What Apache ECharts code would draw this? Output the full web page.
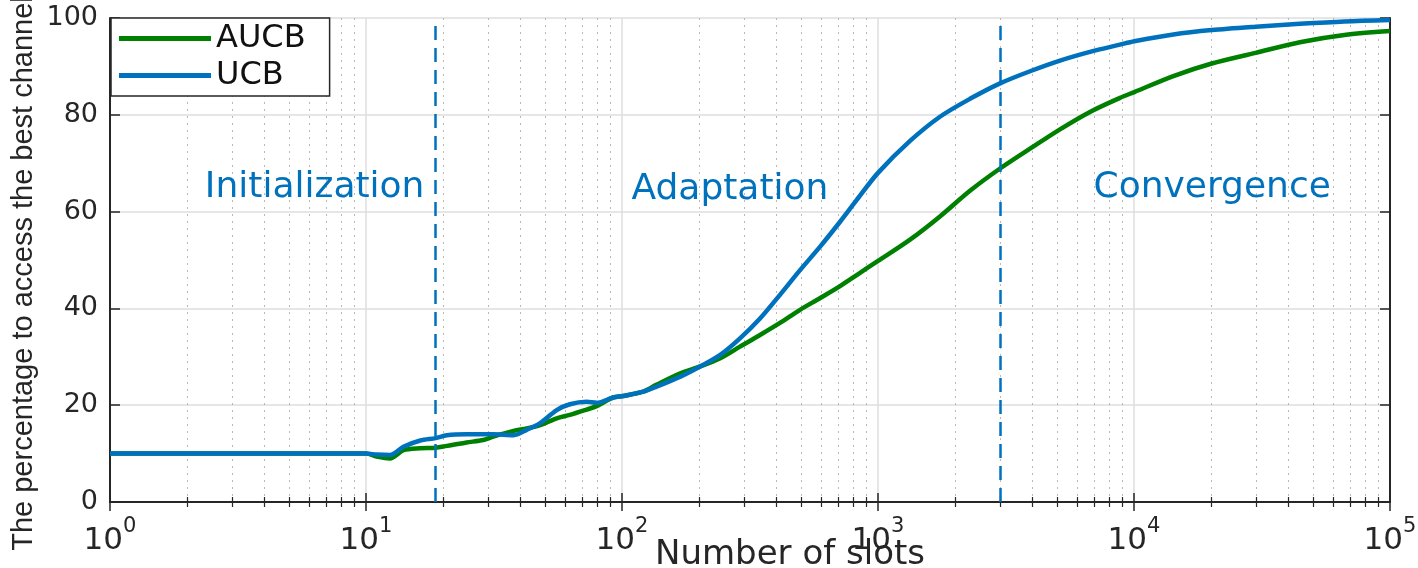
<!DOCTYPE html>
<html>
<head>
<meta charset="utf-8">
<title>AUCB vs UCB</title>
<script src="https://cdn.jsdelivr.net/npm/echarts@6/dist/echarts.min.js"></script>
<style>
  html, body { margin: 0; padding: 0; background: #fff; }
  #chart { width: 1418px; height: 568px; }
</style>
</head>
<body>
<div id="chart"></div>
<script>
// number of slots (x, log scale)
var slots = [1, 5, 10, 11, 12.4, 14, 16.3, 18.7, 20.7, 24.7, 28.7, 31.4, 37.7, 42.4, 47.9,
  55.6, 62.6, 72.8, 79.6, 92.5, 101, 121, 136, 169, 202, 242, 289, 346, 414, 496, 593,
  711, 826, 1000, 1334, 1746, 2287, 2998, 3926, 5140, 6730, 8815, 10030, 14250, 20130,
  29860, 44460, 66350, 100000];
// percentage of accessing the best channel
var aucb = [10, 10, 10, 9.4, 9.0, 10.7, 11.1, 11.2, 11.6, 12.3, 12.8, 13.5, 14.7, 15.2, 15.9,
  17.3, 18.0, 19.1, 19.8, 21.6, 21.9, 22.8, 24.2, 26.6, 28.0, 29.7, 32.1, 34.5, 37.0, 39.7, 42.1,
  44.6, 46.9, 49.8, 54.2, 59.0, 64.3, 68.9, 73.0, 77.0, 80.6, 83.5, 84.7, 88.0, 90.6,
  92.8, 95.0, 96.5, 97.3];
var ucb = [10, 10, 10, 9.8, 9.7, 11.4, 12.7, 13.2, 13.8, 14.0, 14.0, 14.0, 13.8, 14.9, 16.3,
  19.0, 20.2, 20.7, 20.5, 21.6, 21.9, 22.8, 23.8, 25.9, 28.0, 30.4, 33.8, 37.9, 42.8, 47.9, 52.7,
  57.9, 62.4, 68.0, 74.6, 79.6, 83.3, 86.5, 89.0, 91.2, 93.0, 94.5, 95.2, 96.6, 97.5,
  98.2, 98.8, 99.3, 99.6];
// phase boundaries (dashed lines)
var phaseBounds = [18.7, 3000];
// phase labels: name, x (slots), y (%)
var phaseNames = ['Initialization', 'Adaptation', 'Convergence'];
var phaseX = [6.3, 264, 20200];
var phaseY = [65, 64.5, 65];
var yTicks = [0, 20, 40, 60, 80, 100];

function pairs(xs, ys) {
  return xs.map(function (x, i) { return [x, ys[i]]; });
}

var axisColor = '#262626';
var font = 'DejaVu Sans';

var chart = echarts.init(document.getElementById('chart'), null, { renderer: 'canvas' });
chart.setOption({
  animation: false,
  grid: { left: 110, right: 28, top: 18, bottom: 66, containLabel: false, outerBoundsMode: 'none' },
  legend: {
    data: ['AUCB', 'UCB'],
    orient: 'vertical',
    left: 111,
    top: 18,
    itemWidth: 92,
    itemHeight: 5,
    itemGap: 4,
    icon: 'rect',
    padding: [4, 24, 4, 8],
    backgroundColor: '#fff',
    borderColor: axisColor,
    borderWidth: 1.5,
    borderRadius: 0,
    textStyle: { fontFamily: font, fontSize: 32, color: '#111', lineHeight: 33 }
  },
  xAxis: [
    {
      type: 'log',
      logBase: 10,
      min: 1,
      max: 100000,
      name: 'Number of slots',
      nameLocation: 'middle',
      nameGap: 36,
      nameMoveOverlap: false,
      nameTextStyle: { fontFamily: font, fontSize: 34, color: axisColor, padding: [0, 0, 0, 80] },
      axisLine: { lineStyle: { color: axisColor, width: 2 } },
      axisTick: { inside: true, length: 9, lineStyle: { color: axisColor, width: 1.5 } },
      minorTick: { show: true, splitNumber: 9, length: 5, lineStyle: { color: axisColor, width: 1.2 } },
      splitLine: { show: true, lineStyle: { color: '#dedede', width: 1.5 } },
      minorSplitLine: { show: true, lineStyle: { color: '#b8b8b8', width: 1, type: [2, 5] } },
      axisLabel: {
        margin: 14,
        formatter: function (v) {
          return '{b|10}{s|' + Math.round(Math.log10(v)) + '}';
        },
        rich: {
          b: { fontFamily: font, fontSize: 31, color: axisColor, verticalAlign: 'bottom', lineHeight: 40 },
          s: { fontFamily: font, fontSize: 21, color: axisColor, verticalAlign: 'top', lineHeight: 40 }
        }
      }
    },
    {
      type: 'log',
      logBase: 10,
      min: 1,
      max: 100000,
      position: 'top',
      axisLine: { lineStyle: { color: axisColor, width: 2 } },
      axisTick: { inside: true, length: 9, lineStyle: { color: axisColor, width: 1.5 } },
      minorTick: { show: true, splitNumber: 9, length: 5, lineStyle: { color: axisColor, width: 1.2 } },
      splitLine: { show: false },
      axisLabel: { show: false }
    }
  ],
  yAxis: [
    {
      type: 'value',
      min: yTicks[0],
      max: yTicks[yTicks.length - 1],
      interval: 20,
      name: 'The percentage to access the best channel',
      nameLocation: 'middle',
      nameGap: 72,
      nameMoveOverlap: false,
      nameTextStyle: { fontFamily: 'Liberation Sans', fontSize: 29, color: axisColor, padding: [0, 27, 0, 0] },
      axisLine: { show: true, lineStyle: { color: axisColor, width: 2 } },
      axisTick: { show: true, inside: true, length: 10, lineStyle: { color: axisColor, width: 1.5 } },
      splitLine: { show: true, lineStyle: { color: '#dedede', width: 1.5 } },
      axisLabel: { margin: 12, fontFamily: font, fontSize: 27, color: axisColor }
    },
    {
      type: 'value',
      min: yTicks[0],
      max: yTicks[yTicks.length - 1],
      interval: 20,
      position: 'right',
      axisLine: { show: true, lineStyle: { color: axisColor, width: 2 } },
      axisTick: { show: true, inside: true, length: 10, lineStyle: { color: axisColor, width: 1.5 } },
      splitLine: { show: false },
      axisLabel: { show: false }
    }
  ],
  series: [
    {
      name: 'AUCB',
      type: 'line',
      data: pairs(slots, aucb),
      showSymbol: false,
      smooth: 0.3,
      color: '#008000',
      lineStyle: { color: '#008000', width: 4.5 },
      markLine: {
        silent: true,
        symbol: 'none',
        label: { show: false },
        lineStyle: { color: '#0072BD', width: 2.5, type: [14, 8] },
        data: phaseBounds.map(function (x) { return { xAxis: x }; })
      }
    },
    {
      name: 'UCB',
      type: 'line',
      data: pairs(slots, ucb),
      showSymbol: false,
      smooth: 0.3,
      color: '#0072BD',
      lineStyle: { color: '#0072BD', width: 4.5 }
    },
    {
      name: 'phases',
      type: 'scatter',
      symbolSize: 1,
      itemStyle: { color: 'rgba(0,0,0,0)', opacity: 1 },
      silent: true,
      data: phaseNames.map(function (n, i) { return { name: n, value: [phaseX[i], phaseY[i]] }; }),
      label: {
        show: true,
        position: 'inside',
        formatter: '{b}',
        fontFamily: font,
        fontSize: 36,
        color: '#0072BD',
        opacity: 1
      }
    }
  ]
});
</script>
</body>
</html>
